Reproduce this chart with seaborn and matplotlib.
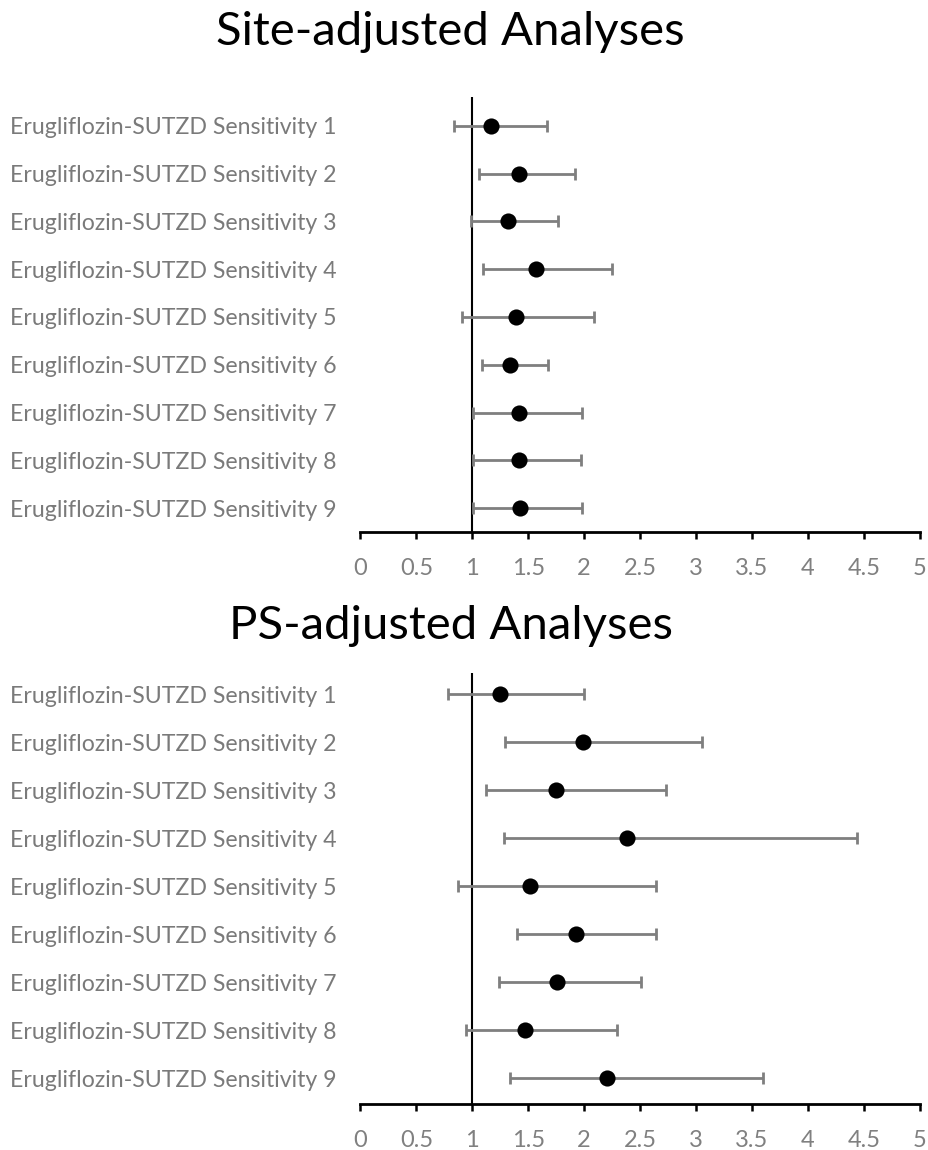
import numpy as np
import matplotlib
matplotlib.use("Agg")
import matplotlib.pyplot as plt
import seaborn as sns
import pandas as pd

labels = [f"Erugliflozin-SUTZD Sensitivity {i}" for i in range(1, 10)]

site_est = [1.17, 1.42, 1.32, 1.57, 1.39, 1.34, 1.42, 1.42, 1.43]
site_lo = [0.84, 1.06, 0.99, 1.10, 0.91, 1.09, 1.01, 1.01, 1.01]
site_hi = [1.67, 1.92, 1.77, 2.25, 2.09, 1.68, 1.98, 1.97, 1.98]

ps_est = [1.25, 1.99, 1.75, 2.38, 1.52, 1.93, 1.76, 1.47, 2.20]
ps_lo = [0.78, 1.29, 1.12, 1.28, 0.87, 1.40, 1.24, 0.945, 1.34]
ps_hi = [2.00, 3.05, 2.73, 4.44, 2.64, 2.64, 2.51, 2.29, 3.60]

xticks = [0, 0.5, 1, 1.5, 2, 2.5, 3, 3.5, 4, 4.5, 5]
xticklabels = ["0", "0.5", "1", "1.5", "2", "2.5", "3", "3.5", "4", "4.5", "5"]

sns.set_theme(style="white")
plt.rcParams['font.family'] = ['Lato', 'DejaVu Sans']

fig = plt.figure(figsize=(9.29, 11.5), dpi=100)
GRAY = "#7f7f7f"

panels = [
    ("Site-adjusted Analyses", site_est, site_lo, site_hi,
     [0.388, 0.5374, 0.602, 0.3783], (8.50, -0.605), 0.961),
    ("PS-adjusted Analyses", ps_est, ps_lo, ps_hi,
     [0.388, 0.0400, 0.602, 0.3748], (8.54, -0.44), 0.444),
]

for title, est, lo, hi, rect, ylim, ty in panels:
    ax = fig.add_axes(rect)
    df = pd.DataFrame({"label": labels, "est": est, "lo": lo, "hi": hi,
                       "pos": np.arange(len(labels))})
    err = np.vstack([df["est"] - df["lo"], df["hi"] - df["est"]])
    ax.errorbar(df["est"], df["pos"], xerr=err, fmt="none", ecolor=GRAY,
                elinewidth=2.0, capsize=4.5, capthick=2.0, zorder=2)
    ax.axvline(1, color="black", lw=1.5, zorder=1)
    sns.scatterplot(data=df, x="est", y="pos", ax=ax, color="black", s=135,
                    edgecolor="black", linewidth=0, zorder=3, legend=False)
    ax.set_xlim(0, 5)
    ax.set_ylim(*ylim)
    ax.set_yticks(df["pos"])
    ax.set_yticklabels(df["label"], color="#7a7a7a", fontsize=16.7)
    ax.tick_params(axis="y", length=0, pad=17)
    ax.set_xticks(xticks)
    ax.set_xticklabels(xticklabels, color="#808080", fontsize=17)
    ax.tick_params(axis="x", length=5, width=1.8, color="black", direction="out",
                   pad=14, bottom=True)
    for s in ["top", "right", "left"]:
        ax.spines[s].set_visible(False)
    ax.spines["bottom"].set_color("black")
    ax.spines["bottom"].set_linewidth(2)
    ax.set_xlabel("")
    ax.set_ylabel("")
    ax.grid(False)
    fig.text(0.485, ty, title, ha="center", va="baseline", fontsize=34, color="black")

fig.savefig("out.png", dpi=100)
